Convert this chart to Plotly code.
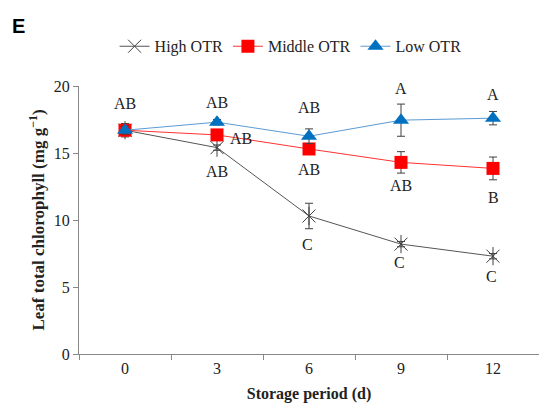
import plotly.graph_objects as go

days = ["0", "3", "6", "9", "12"]
high = [16.7, 15.4, 10.3, 8.2, 7.3]
high_err = [0.3, 0.2, 0.95, 0.2, 0.2]
middle = [16.7, 16.35, 15.3, 14.3, 13.85]
middle_err = [0.5, 0.2, 0.2, 0.8, 0.85]
low = [16.7, 17.3, 16.25, 17.45, 17.6]
low_err = [0.3, 0.2, 0.55, 1.2, 0.5]

# significance letters: (day, y value, text)
letters_x = ["0", "3", "3", "3", "6", "6", "6", "9", "9", "9", "12", "12", "12"]
letters_y = [18.7, 18.75, 16.1, 13.65, 18.4, 13.75, 8.15, 19.85, 12.55, 6.8, 19.4, 11.65, 5.8]
letters_t = ["AB", "AB", "AB", "AB", "AB", "AB", "C", "A", "AB", "C", "A", "B", "C"]
letters_dx = [0, 0, 24, 0, 0, 0, -2, 0, 0, -2, 0, 0, -2]

serif = "Liberation Serif, Times New Roman, serif"

fig = go.Figure()
fig.add_trace(go.Scatter(
    x=days, y=high, name="High OTR", mode="lines+markers",
    line=dict(color="#555555", width=1),
    marker=dict(symbol="x-thin-open", size=13, color="#404040", line=dict(color="#404040", width=1)),
    error_y=dict(type="data", array=high_err, color="#404040", thickness=1, width=4),
))
fig.add_trace(go.Scatter(
    x=days, y=high, showlegend=False, mode="markers", hoverinfo="skip",
    marker=dict(symbol="line-ns-open", size=13, color="#404040", line=dict(color="#404040", width=1)),
))
fig.add_trace(go.Scatter(
    x=days, y=middle, name="Middle OTR", mode="lines+markers",
    line=dict(color="#FF3333", width=1),
    marker=dict(symbol="square", size=13, color="#FF0000"),
    error_y=dict(type="data", array=middle_err, color="#404040", thickness=1, width=4),
))
fig.add_trace(go.Scatter(
    x=days, y=low, name="Low OTR", mode="lines+markers",
    line=dict(color="#5B9BD5", width=1),
    marker=dict(symbol="triangle-up", size=14, color="#0070C0"),
    error_y=dict(type="data", array=low_err, color="#404040", thickness=1, width=4),
))

for x, y, t, dx in zip(letters_x, letters_y, letters_t, letters_dx):
    fig.add_annotation(x=days.index(x), y=y, text=t, showarrow=False, xshift=dx,
                       font=dict(family=serif, size=16, color="#222222"))

fig.add_annotation(text="<b>E</b>", xref="paper", yref="paper", x=-0.15, y=1.225,
                   xanchor="left", yanchor="middle", showarrow=False,
                   font=dict(family="Liberation Sans, Arial, sans-serif", size=20, color="black"))

fig.update_layout(
    width=539, height=405,
    margin=dict(l=79, r=0, t=86, b=51),
    paper_bgcolor="white", plot_bgcolor="white",
    font=dict(family=serif, size=16, color="#222222"),
    legend=dict(orientation="h", x=0.46, xanchor="center", y=1.148, yanchor="middle",
                font=dict(family=serif, size=16, color="#222222"),
                itemwidth=30, tracegroupgap=0),
    xaxis=dict(type="category", range=[-0.5, 4.5], showline=True, linecolor="#888888",
               linewidth=1, ticks="outside", tickson="boundaries", ticklen=5,
               tickcolor="#888888", showgrid=False, zeroline=False,
               title=dict(text="<b>Storage period (d)</b>", font=dict(size=16), standoff=11)),
    yaxis=dict(range=[0, 20], dtick=5, showline=True, linecolor="#888888", linewidth=1,
               ticks="outside", ticklen=5, tickcolor="#888888", showgrid=False,
               zeroline=False,
               title=dict(text="<b>Leaf total chlorophyll (mg g<sup>−1</sup>)</b>",
                          font=dict(size=17), standoff=4)),
)

fig.write_html("out.html")
